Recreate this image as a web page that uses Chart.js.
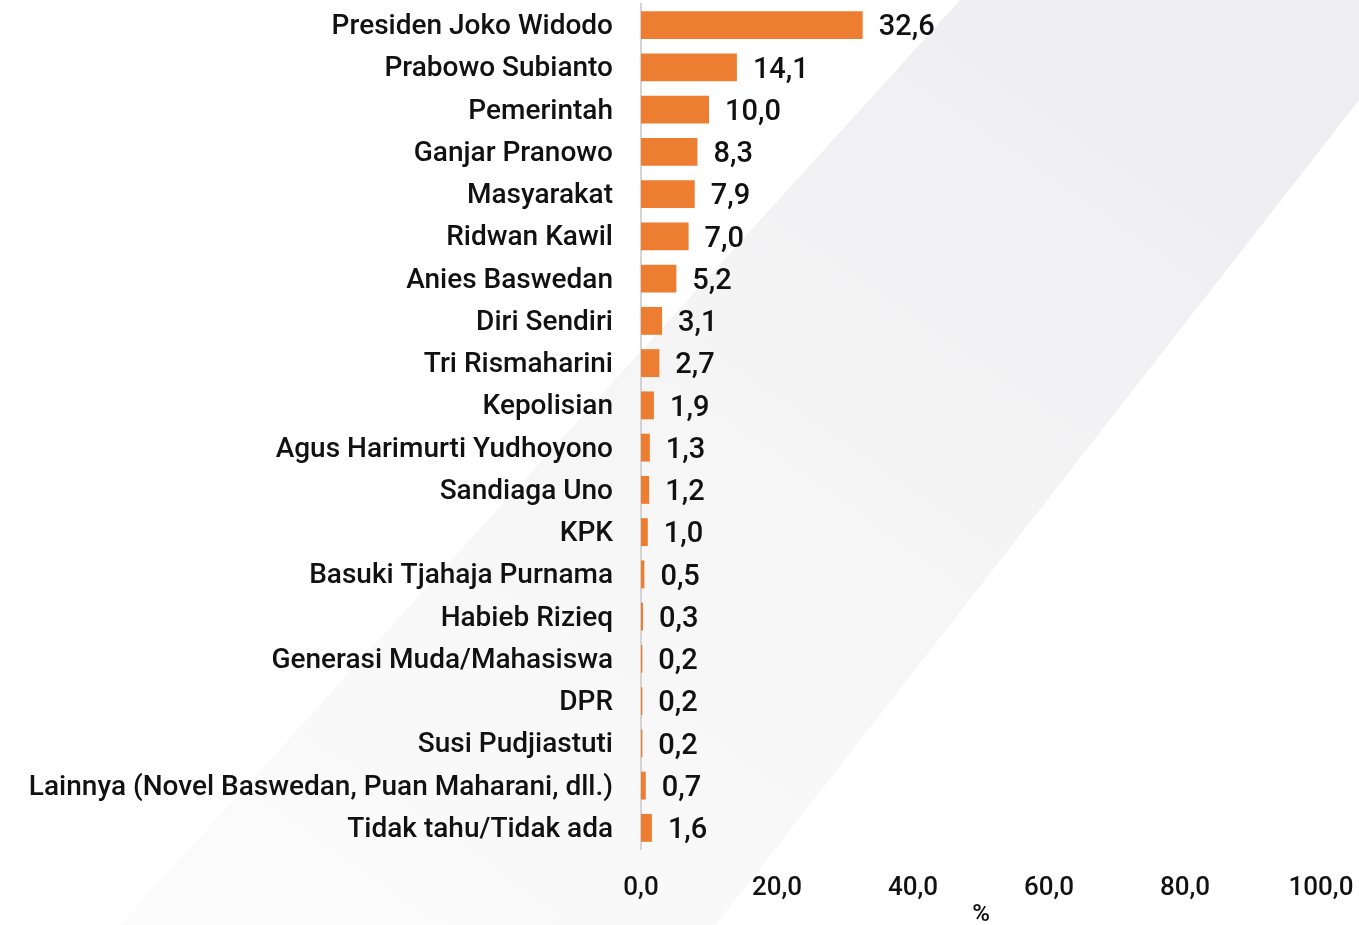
<!DOCTYPE html>
<html>
<head>
<meta charset="utf-8">
<script src="https://cdn.jsdelivr.net/npm/chart.js@4"></script>
<style>
  html, body { margin: 0; padding: 0; background: #fff; }
  #wrap { position: relative; width: 1359px; height: 925px; overflow: hidden; }
  #bg { position: absolute; inset: 0; background: linear-gradient(215deg, #eeeef0 10%, #f6f6f7 50%, #fbfbfc 90%);
        clip-path: polygon(960px 0, 1359px 0, 1359px 100px, 716px 925px, 120px 925px); }
  canvas { position: absolute; left: 0; top: 0; }
</style>
</head>
<body>
<div id="wrap">
  <div id="bg"></div>
  <canvas id="chart" width="1359" height="925"></canvas>
</div>
<script>
// data
const categories = [
  'Presiden Joko Widodo', 'Prabowo Subianto', 'Pemerintah', 'Ganjar Pranowo',
  'Masyarakat', 'Ridwan Kawil', 'Anies Baswedan', 'Diri Sendiri',
  'Tri Rismaharini', 'Kepolisian', 'Agus Harimurti Yudhoyono', 'Sandiaga Uno',
  'KPK', 'Basuki Tjahaja Purnama', 'Habieb Rizieq', 'Generasi Muda/Mahasiswa',
  'DPR', 'Susi Pudjiastuti', 'Lainnya (Novel Baswedan, Puan Maharani, dll.)',
  'Tidak tahu/Tidak ada'
];
const values = [32.6, 14.1, 10.0, 8.3, 7.9, 7.0, 5.2, 3.1, 2.7, 1.9, 1.3, 1.2, 1.0, 0.5, 0.3, 0.2, 0.2, 0.2, 0.7, 1.6];
const xTicks = [0, 20, 40, 60, 80, 100];

const fmt = v => v.toFixed(1).replace('.', ',');

// value labels at the end of each bar
const valueLabels = {
  id: 'valueLabels',
  afterDatasetsDraw(chart) {
    const ctx = chart.ctx;
    const meta = chart.getDatasetMeta(0);
    ctx.save();
    ctx.font = '500 29px Roboto';
    ctx.fillStyle = '#111';
    ctx.textAlign = 'left';
    ctx.textBaseline = 'middle';
    meta.data.forEach((bar, i) => {
      ctx.fillText(fmt(values[i]), bar.x + 16, bar.y + 3);
    });
    ctx.restore();
  }
};

new Chart(document.getElementById('chart'), {
  type: 'bar',
  data: {
    labels: categories,
    datasets: [{
      data: values,
      backgroundColor: '#ed7d31',
      barPercentage: 0.66,
      categoryPercentage: 1
    }]
  },
  plugins: [valueLabels],
  options: {
    indexAxis: 'y',
    responsive: false,
    animation: false,
    layout: { padding: { top: 4, right: 38, left: 0, bottom: 0 } },
    plugins: { legend: { display: false }, tooltip: { enabled: false } },
    scales: {
      x: {
        min: 0,
        max: 100,
        afterBuildTicks: s => { s.ticks = xTicks.map(v => ({ value: v })); },
        // fixed axis box, no extra edge padding from the tick labels
        afterFit: s => { s.height = 76; s.paddingLeft = 0; s.paddingRight = 0; },
        grid: { display: false, drawTicks: false },
        border: { display: false },
        ticks: {
          padding: 24,
          maxRotation: 0,
          color: '#111',
          font: { family: 'Roboto', size: 26, weight: '500' },
          callback: v => fmt(v)
        },
        title: {
          display: true,
          text: '%',
          color: '#111',
          font: { family: 'Roboto', size: 24, weight: '500', lineHeight: 0.8 },
          padding: 0
        }
      },
      y: {
        afterFit: s => { s.width = 641; s.paddingTop = 0; s.paddingBottom = 0; },
        grid: { display: false, drawTicks: false },
        border: { display: true, color: '#d4d4d4', width: 2 },
        ticks: {
          padding: 28,
          labelOffset: 2,
          color: '#111',
          font: { family: 'Roboto', size: 28, weight: '500' }
        }
      }
    }
  }
});
</script>
</body>
</html>
